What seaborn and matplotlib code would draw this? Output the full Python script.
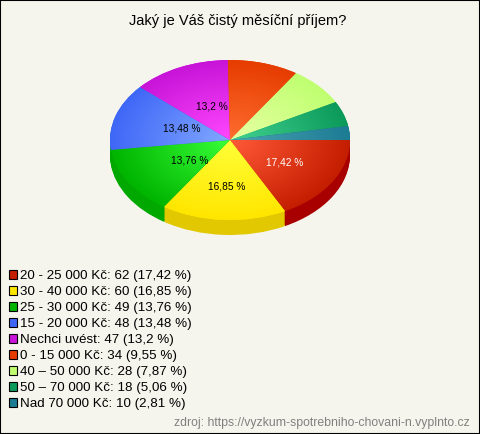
import numpy as np
import matplotlib
matplotlib.use('Agg')
import matplotlib.pyplot as plt
from matplotlib.colors import to_rgb
from matplotlib.patches import Patch, Rectangle
import seaborn as sns

# Chart data
categories = ['20 - 25 000 Kč', '30 - 40 000 Kč', '25 - 30 000 Kč', '15 - 20 000 Kč',
              'Nechci uvést', '0 - 15 000 Kč', '40 – 50 000 Kč', '50 – 70 000 Kč',
              'Nad 70 000 Kč']
counts = [62, 60, 49, 48, 47, 34, 28, 18, 10]
percents = ['17,42', '16,85', '13,76', '13,48', '13,2', '9,55', '7,87', '5,06', '2,81']

# Slice colours
outer_colors = ['#C41E00', '#FFE600', '#00B400', '#3F67F7', '#C814D8',
                '#E63C00', '#BFFF70', '#0C9A5A', '#1C7C94']
inner_colors = ['#FF5A38', '#FFFF38', '#38FF38', '#82A8FF', '#FF48FF',
                '#FF6E30', '#E8FFA5', '#42D292', '#4CA2B2']
# the blue slice shows no side of its own in the reference
side_colors = ['#A80000', '#E2C800', '#00A800', '#00A800', '#9000A0',
               '#B02800', '#90D050', '#007040', '#105868']

BG = '#F5F5ED'
W, H = 480, 434
CX, CY, RX, RY, DEPTH = 230, 140, 120, 80, 15
# pixel nudges for the percent labels
label_nudge = [(0, 0), (0, 4), (14, -2), (13, 1), (9, 5)]

sns.set_theme(style='white')
plt.rcParams['font.family'] = ['Liberation Sans', 'DejaVu Sans']


def main():
    fig = plt.figure(figsize=(W / 100, H / 100), dpi=100, facecolor=BG)
    ax = fig.add_axes([0, 0, 1, 1])
    ax.set_facecolor(BG)
    wp = {'linewidth': 0}

    # side of the pie: the same pie stacked downwards
    for dy in range(DEPTH, 0, -1):
        ax.pie(counts, colors=side_colors, startangle=0, counterclock=False,
               center=(0, -dy / RY), wedgeprops=wp)

    wedges, _ = ax.pie(counts, colors=outer_colors, startangle=0,
                       counterclock=False, wedgeprops=wp)

    # radial gradient in every slice
    yy, xx = np.mgrid[-1:1:300j, -1:1:300j]
    rr = np.clip(np.hypot(xx, yy), 0, 1)[..., None]
    for wedge, inner, outer in zip(wedges, inner_colors, outer_colors):
        img = (1 - rr) * np.array(to_rgb(inner)) + rr * np.array(to_rgb(outer))
        im = ax.imshow(img, extent=(-1, 1, -1, 1), origin='lower', aspect='auto', zorder=2)
        im.set_clip_path(wedge)

    # percent labels on the five big slices
    for i, wedge in enumerate(wedges[:5]):
        mid = np.deg2rad((wedge.theta1 + wedge.theta2) / 2)
        nx, ny = label_nudge[i]
        ax.text(0.535 * np.cos(mid) + nx / RX, 0.535 * np.sin(mid) - ny / RY,
                f'{percents[i]} %', ha='center', va='center', fontsize=7.3,
                color='white' if i == 0 else 'black', zorder=5)

    ax.set_aspect('auto')
    ax.set_xlim(-CX / RX, (W - CX) / RX)
    ax.set_ylim(-(H - CY) / RY, CY / RY)
    ax.axis('off')

    fig.text(0.5 - 2 / W, 1 - 20.5 / H, 'Jaký je Váš čistý měsíční příjem?',
             ha='center', va='center', fontsize=10.5, color='black')
    fig.text(1 - 10 / W, 1 - 423 / H, 'zdroj: https://vyzkum-spotrebniho-chovani-n.vyplnto.cz',
             ha='right', va='center', fontsize=8.8, color='#808080')

    handles = [Patch(facecolor=c, edgecolor='black', linewidth=0.8) for c in outer_colors]
    labels = [f'{c}: {n} ({p} %)' for c, n, p in zip(categories, counts, percents)]
    fig.legend(handles, labels, loc='upper left', bbox_to_anchor=(9 / W, 1 - 270 / H),
               frameon=False, fontsize=9.6, handlelength=0.62, handleheight=0.62,
               handletextpad=0.2, labelspacing=0.3, borderpad=0, borderaxespad=0,
               labelcolor='black')

    # thin frame round the picture
    fig.add_artist(Rectangle((0, 0), 1, 1, transform=fig.transFigure, fill=False,
                             edgecolor='black', linewidth=1.5))
    fig.savefig('out.png', dpi=100, facecolor=BG)


if __name__ == "__main__":
    main()
